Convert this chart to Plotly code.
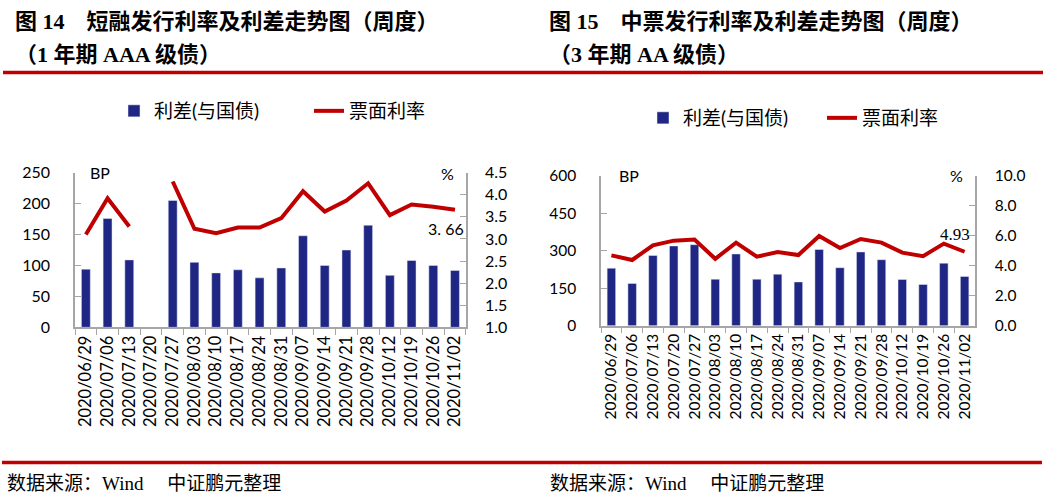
import plotly.graph_objects as go

W, H = 1049, 497

dates = ["2020/06/29", "2020/07/06", "2020/07/13", "2020/07/20", "2020/07/27", "2020/08/03",
         "2020/08/10", "2020/08/17", "2020/08/24", "2020/08/31", "2020/09/07", "2020/09/14",
         "2020/09/21", "2020/09/28", "2020/10/12", "2020/10/19", "2020/10/26", "2020/11/02"]

spread_cp = [94, 176, 109, None, 205, 105, 88, 93, 80, 96, 148, 100, 125, 165, 84, 108, 100, 92]
rate_cp = [3.10, 3.92, 3.28, None, 4.30, 3.23, 3.13, 3.26, 3.26, 3.47, 4.08, 3.62, 3.87, 4.26,
           3.54, 3.78, 3.73, 3.66]

spread_mtn = [230, 169, 281, 319, 324, 186, 287, 186, 206, 175, 305, 232, 295, 264, 185, 165, 250, 197]
rate_mtn = [4.69, 4.38, 5.36, 5.67, 5.74, 4.46, 5.54, 4.60, 4.91, 4.71, 5.98, 5.18, 5.78, 5.54,
            4.87, 4.64, 5.47, 4.93]

name_bar = "利差(与国债)"
name_line = "票面利率"
label_cp = "3. 66"
label_mtn = "4.93"

BLUE = "#1F2683"
RED = "#C00000"
AX = "#A6A6A6"
SANS = "Lato, Noto Sans CJK SC"
SERIF = "Liberation Serif, Noto Sans CJK SC"


def px(x):
    return x / W


def py(y):
    return 1 - y / H


fig = go.Figure()

fig.add_trace(go.Bar(x=dates, y=spread_cp, name=name_bar, marker_color=BLUE,
                     xaxis="x", yaxis="y", legend="legend"))
fig.add_trace(go.Scatter(x=dates, y=rate_cp, name=name_line, mode="lines",
                         line=dict(color=RED, width=4), connectgaps=False,
                         xaxis="x", yaxis="y3", legend="legend"))
fig.add_trace(go.Bar(x=dates, y=spread_mtn, name=name_bar, marker_color=BLUE,
                     xaxis="x2", yaxis="y2", legend="legend2"))
fig.add_trace(go.Scatter(x=dates, y=rate_mtn, name=name_line, mode="lines",
                         line=dict(color=RED, width=4),
                         xaxis="x2", yaxis="y4", legend="legend2"))

common_x = dict(type="category", tickangle=-90, ticks="outside", tickson="boundaries",
                ticklen=6, tickcolor=AX, showline=True, linecolor=AX, linewidth=1.5,
                showgrid=False, zeroline=False, automargin=False)
common_y = dict(ticks="inside", ticklen=6, tickcolor=AX, showline=True, linecolor=AX,
                linewidth=1.5, showgrid=False, zeroline=False, automargin=False)

fig.update_layout(
    width=W, height=H, margin=dict(l=0, r=0, t=0, b=0, pad=0, autoexpand=False),
    paper_bgcolor="white", plot_bgcolor="white",
    bargap=0.59,
    xaxis=dict(domain=[px(75), px(466)], anchor="y",
               tickfont=dict(family=SANS, size=16.5, color="black"), **common_x),
    yaxis=dict(domain=[py(327.3), py(172.7)], range=[0, 250], dtick=50, anchor="x",
               ticklabelstandoff=20, tickfont=dict(family=SANS, size=16, color="black"),
               **common_y),
    yaxis3=dict(overlaying="y", side="right", anchor="x", range=[1, 4.5], dtick=0.5,
                tickformat=".1f", ticklabelstandoff=14,
                tickfont=dict(family=SANS, size=16, color="black"), **common_y),
    xaxis2=dict(domain=[px(601), px(975)], anchor="y2",
                tickfont=dict(family=SANS, size=15.5, color="black"), **common_x),
    yaxis2=dict(domain=[py(325.7), py(175.7)], range=[0, 600], dtick=150, anchor="x2",
                ticklabelstandoff=20, tickfont=dict(family=SANS, size=15.5, color="black"),
                **common_y),
    yaxis4=dict(overlaying="y2", side="right", anchor="x2", range=[0, 10], dtick=2,
                tickformat=".1f", ticklabelstandoff=15,
                tickfont=dict(family=SANS, size=15.5, color="black"), **common_y),
    legend=dict(orientation="h", x=px(114), y=py(111), xanchor="left", yanchor="middle",
                entrywidth=150, entrywidthmode="pixels", itemwidth=30,
                font=dict(family=SANS, size=19, color="black"), bgcolor="rgba(0,0,0,0)"),
    legend2=dict(orientation="h", x=px(643), y=py(118), xanchor="left", yanchor="middle",
                 entrywidth=134, entrywidthmode="pixels", itemwidth=30,
                 font=dict(family=SANS, size=19, color="black"), bgcolor="rgba(0,0,0,0)"),
    showlegend=True,
)

annotations = [
    dict(text="图 14　短融发行利率及利差走势图（周度）", x=px(13), y=py(22)),
    dict(text="（1 年期 AAA 级债）", x=px(13), y=py(55)),
    dict(text="图 15　中票发行利率及利差走势图（周度）", x=px(547), y=py(22)),
    dict(text="（3 年期 AA 级债）", x=px(547), y=py(55)),
]
anns = []
for a in annotations:
    a.update(xref="paper", yref="paper", xanchor="left", yanchor="middle", showarrow=False,
             font=dict(family=SERIF, size=22, color="black", weight="bold"))
    anns.append(a)

for t, x in [("数据来源：Wind　 中证鹏元整理", 5), ("数据来源：Wind　 中证鹏元整理", 548)]:
    anns.append(dict(text=t, x=px(x), y=py(483), xref="paper", yref="paper",
                     xanchor="left", yanchor="middle", showarrow=False,
                     font=dict(family=SERIF, size=19, color="black")))

for t, x, y in [("BP", 88, 172.5), ("BP", 617, 175.5)]:
    anns.append(dict(text=t, x=px(x), y=py(y), xref="paper", yref="paper", xanchor="left",
                     yanchor="middle", showarrow=False,
                     font=dict(family=SANS, size=16, color="black")))
for t, x, y in [("%", 456, 173.5), ("%", 965, 175.5)]:
    anns.append(dict(text=t, x=px(x), y=py(y), xref="paper", yref="paper", xanchor="right",
                     yanchor="middle", showarrow=False,
                     font=dict(family=SANS, size=16, color="black")))

anns.append(dict(text=label_cp, x=dates[-1], y=rate_cp[-1], xref="x", yref="y3",
                 xshift=-9, yshift=-19, showarrow=False,
                 font=dict(family=SANS, size=16, color="black")))
anns.append(dict(text=label_mtn, x=dates[-1], y=rate_mtn[-1], xref="x2", yref="y4",
                 xshift=-10, yshift=17, showarrow=False,
                 font=dict(family="Liberation Serif", size=17, color="black")))

fig.update_layout(annotations=anns)

fig.update_layout(shapes=[
    dict(type="line", xref="paper", yref="paper", x0=px(3), x1=px(1043), y0=py(72.5), y1=py(72.5),
         line=dict(color=RED, width=3.5)),
    dict(type="line", xref="paper", yref="paper", x0=px(2), x1=px(1042), y0=py(462.5), y1=py(462.5),
         line=dict(color=RED, width=3.5)),
])

fig.write_html("out.html", config={"displayModeBar": False},
               post_script="document.body.style.margin='0';document.body.style.overflow='hidden';")
